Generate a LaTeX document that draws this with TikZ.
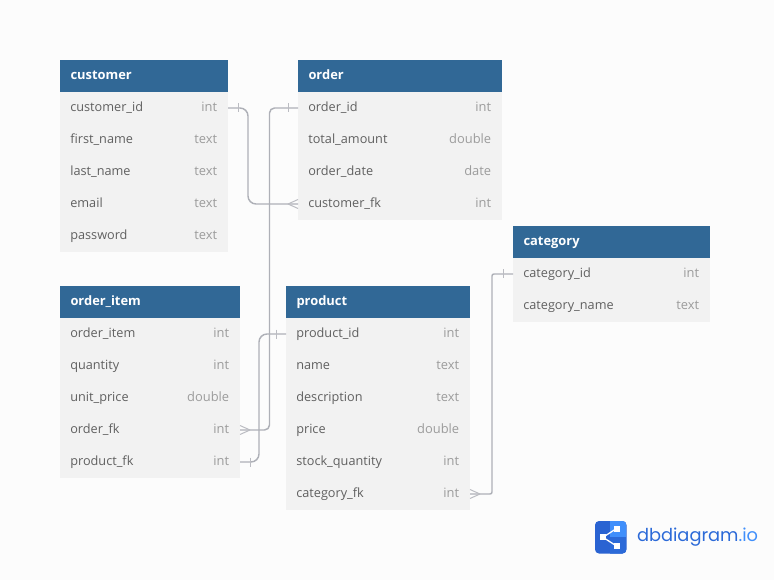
\documentclass[tikz,border=0pt]{standalone}
\usepackage{fontspec}
\setmainfont{Open Sans}
\newfontfamily\logofont{Poppins}
\definecolor{pagebg}{HTML}{FCFCFC}
\definecolor{headblue}{HTML}{316896}
\definecolor{rowgray}{HTML}{F2F2F2}
\definecolor{fieldgray}{HTML}{606060}
\definecolor{typegray}{HTML}{9C9C9C}
\definecolor{linkgray}{HTML}{AEB0B7}
\definecolor{marklight}{HTML}{BBBCC2}
\definecolor{logodark}{HTML}{2A63D2}
\definecolor{logomid}{HTML}{2C6AD8}
\definecolor{logolight}{HTML}{408FFB}
\tikzset{
	tablehead/.style={anchor=north west, fill=headblue, text=white, font=\fontsize{12.9}{15}\selectfont\bfseries, inner xsep=10.5pt, inner ysep=0pt, outer sep=0pt, minimum height=32pt, text height=9.8pt, text depth=2.2pt, align=left},
	tablerow/.style={anchor=north west, fill=rowgray, text=fieldgray, font=\fontsize{12.7}{15}\selectfont, inner xsep=10.3pt, inner ysep=0pt, outer sep=0pt, minimum height=32pt, text height=9.8pt, text depth=2.2pt, align=left},
	rowtype/.style={anchor=east, text=typegray, font=\fontsize{12.9}{15}\selectfont, inner sep=0pt, text height=9.8pt, text depth=2.2pt},
	link/.style={draw=linkgray, line width=1.45pt},
	crowfoot/.pic={\draw[marklight, line width=1pt] (-10,0) -- (0,-4.5) (-10,0) -- (0,4.5);},
	onebar/.pic={\draw[marklight, line width=1pt] (-10,-4.5) -- (-10,4.5);},
}
% #1 name, #2 x, #3 y, #4 width, #5 title, #6 rows
\newcommand{\dbtable}[6]{
	\node[tablehead, text width=#4pt-21pt] (#1) at (#2,#3) {#5};
	\foreach \fname/\ftype [count=\i from 0] in {#6} {
		\node[tablerow, text width=#4pt-20.6pt] (#1-\i) at ({#2},{#3+32+32*\i}) {\fname};
		\node[rowtype] (#1-\i-type) at ([xshift=-10.6pt]#1-\i.east) {\ftype};
	}
}
\begin{document}
\begin{tikzpicture}[x=1pt,y=-1pt]
	\fill[pagebg] (0,0) rectangle (774,580);
	\useasboundingbox (0,0) rectangle (774,580);

	\dbtable{customer}{60}{60}{168}{customer}{customer\_id/int, first\_name/text, last\_name/text, email/text, password/text}
	\dbtable{order}{298}{60}{204}{order}{order\_id/int, total\_amount/double, order\_date/date, customer\_fk/int}
	\dbtable{category}{513}{226}{197}{category}{category\_id/int, category\_name/text}
	\dbtable{orderitem}{60}{286}{180}{order\_item}{order\_item/int, quantity/int, unit\_price/double, order\_fk/int, product\_fk/int}
	\dbtable{product}{286}{286}{184}{product}{product\_id/int, name/text, description/text, price/double, stock\_quantity/int, category\_fk/int}

	% relations
	\draw[link, rounded corners=8pt] (customer-0.east) -- ++(20,0) |- (order-3.west);
	\draw[link, rounded corners=5pt] (order-0.west) -- ++(-28.5,0) |- (orderitem-3.east);
	\draw[link, rounded corners=8pt] (orderitem-4.east) -| ++(19,-20) |- (product-0.west);
	\draw[link, rounded corners=2pt] (category-0.west) -- ++(-21,0) |- (product-5.east);

	\pic at (order-3.west) {crowfoot};
	\pic[xscale=-1] at (orderitem-3.east) {crowfoot};
	\pic[xscale=-1] at (product-5.east) {crowfoot};
	\pic[xscale=-1] at (customer-0.east) {onebar};
	\pic at (order-0.west) {onebar};
	\pic at (product-0.west) {onebar};
	\pic[xscale=-1] at (orderitem-4.east) {onebar};
	\pic at (category-0.west) {onebar};

	% logo
	\fill[logodark, rounded corners=4pt] (595,521) rectangle (626.5,553.5);
	\begin{scope}
		\clip[rounded corners=4pt] (595,521) rectangle (626.5,553.5);
		\fill[logomid] (610,537) rectangle (627,554);
		\fill[logolight] (610,521) rectangle (627,537);
	\end{scope}
	\draw[white, line width=1.3pt] (616.5,528.5) -- (603,537.3) -- (616.5,546);
	\fill[white] (600,534.3) rectangle (606,540.3);
	\fill[white] (613.5,525.5) rectangle (619.5,531.5);
	\fill[white] (613.5,543) rectangle (619.5,549);
	\node[anchor=west, inner sep=0pt, font=\logofont\fontsize{17.8}{22}\selectfont, text=logomid] (logotext) at (636.8,537) {dbdiagram\textcolor{logolight}{.io}};
\end{tikzpicture}
\end{document}
